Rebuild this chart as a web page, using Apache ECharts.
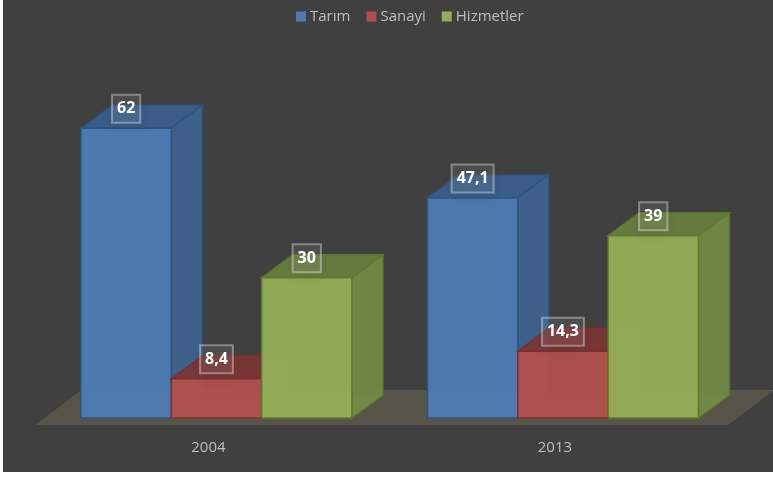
<!DOCTYPE html>
<html><head><meta charset="utf-8">
<script src="https://cdn.jsdelivr.net/npm/echarts@6/dist/echarts.min.js"></script>
<style>html,body{margin:0;padding:0;background:#fff}#c{position:absolute;left:3px;top:0;width:770px;height:472px}</style>
</head><body><div id="c"></div>
<script>
const categories = ['2004', '2013'];
const seriesNames = ['Tarım', 'Sanayi', 'Hizmetler'];
const tarim = [62, 47.1];
const sanayi = [8.4, 14.3];
const hizmetler = [30, 39];
const fronts = ['#4e7bb2', '#b0504e', '#93ae58'];
const sides = ['#3f6492', '#8c403e', '#748c46'];
const tops = ['#3a5f8e', '#7c3534', '#6a7f3f'];
const edges = ['#2c5482', '#7e2f2d', '#5d7a2c'];
const DX = 31, DY = -23, BW = 90.3, SHIFT = 8;

function poly(pts, fill, stroke, op, z2) {
  return {type: 'polygon', shape: {points: pts}, z2: z2 || 1,
    style: {fill, stroke: stroke || 'none', lineWidth: stroke ? 1.5 : 0, opacity: op == null ? 1 : op}};
}
function makeBar(si) {
  return function (params, api) {
    const v = api.value(1);
    const c = api.coord([api.value(0), 0]);
    const t = api.coord([api.value(0), v]);
    const x0 = c[0] + SHIFT + (si - 1.5) * BW, x1 = x0 + BW;
    const yb = c[1], yt = t[1];
    const f = fronts[si], s = sides[si], tp = tops[si], e = edges[si];
    const cx = (x0 + x1) / 2;
    return {type: 'group', children: [
      poly([[x0 + DX, yb + DY], [x1 + DX, yb + DY], [x1, yb], [x0, yb]], f, null, 0.25),
      poly([[x0, yt], [x1, yt], [x1 + DX, yt + DY], [x0 + DX, yt + DY]], tp, e, 0.9),
      poly([[x1, yt], [x1 + DX, yt + DY], [x1 + DX, yb + DY], [x1, yb]], s, e, 0.9),
      poly([[x0, yt], [x1, yt], [x1, yb], [x0, yb]], f, e, 0.96),
      {type: 'text', z2: 100, style: {
        x: cx, y: yt - 19.5, text: String(v).replace('.', ','),
        align: 'center', verticalAlign: 'middle',
        fill: '#fff', font: 'bold 16px "Open Sans", sans-serif',
        backgroundColor: 'rgba(255,255,255,0.08)', borderColor: 'rgba(255,255,255,0.36)',
        borderWidth: 1, padding: [6, 5, 6, 5],
        shadowColor: 'rgba(0,0,0,0.3)', shadowBlur: 12, shadowOffsetY: 4
      }}
    ]};
  };
}
function renderFloor(params, api) {
  const r = params.coordSys;
  const yb = r.y + r.height;
  return {type: 'group', children: [
    poly([[r.x, yb + 7], [r.x + r.width, yb + 7], [r.x + r.width + 46, yb - 28], [r.x + 46, yb - 28]], '#57544a')
  ]};
}
const seriesData = [tarim, sanayi, hizmetler];
const series = [{
  type: 'custom', name: 'floor', renderItem: renderFloor, data: [[0, 0]], silent: true, z: 1, clip: false
}];
seriesNames.forEach((n, i) => series.push({
  type: 'custom', name: n, renderItem: makeBar(i), clip: false, z: 2,
  encode: {x: 0, y: 1}, itemStyle: {color: fronts[i]},
  data: seriesData[i].map((v, k) => [k, v])
}));
const chart = echarts.init(document.getElementById('c'), null, {renderer: 'canvas'});
chart.setOption({
  animation: false,
  backgroundColor: '#404040',
  legend: {
    data: seriesNames, top: 4, left: 288, icon: 'rect', itemWidth: 10, itemHeight: 10, itemGap: 16,
    textStyle: {color: '#bfbfbf', fontSize: 15, fontFamily: '"Open Sans", sans-serif', padding: [0, 0, 0, -1]}
  },
  grid: {left: 32.2, right: 44.8, top: 91, bottom: 54},
  xAxis: {type: 'category', data: categories,
    axisLine: {show: false}, axisTick: {show: false},
    axisLabel: {color: '#bfbfbf', fontSize: 15, margin: 22, fontFamily: '"Open Sans", sans-serif'}},
  yAxis: {type: 'value', min: 0, max: 70, show: false, splitLine: {show: false}},
  series
});
</script></body></html>
